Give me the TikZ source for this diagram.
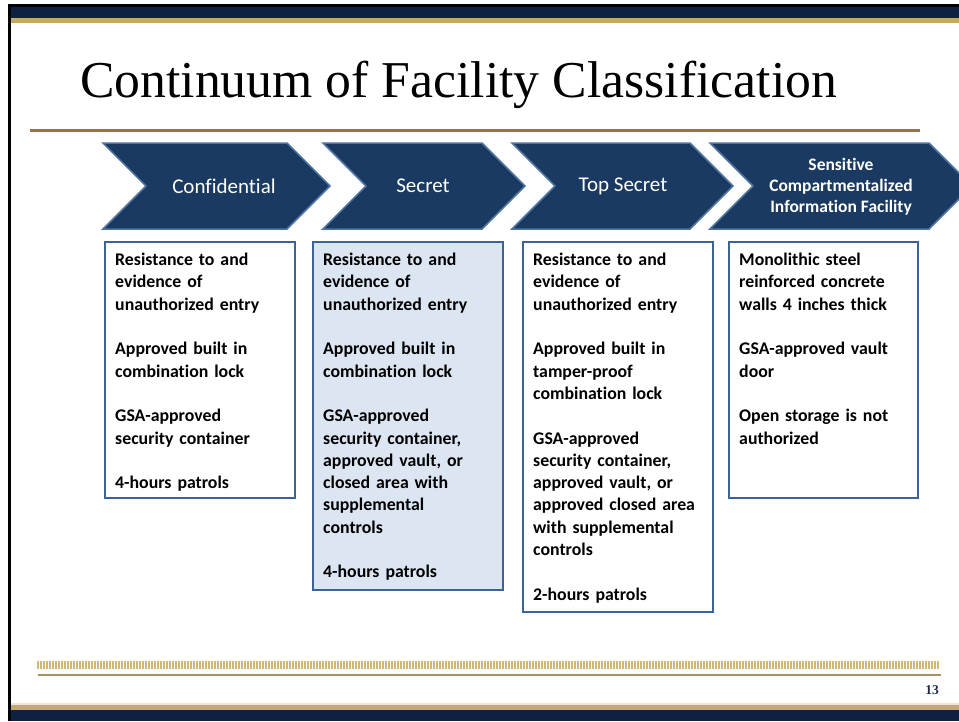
\documentclass[tikz,border=0pt]{standalone}
\usepackage{fontspec}
\setmainfont{Liberation Serif}
\newfontfamily\bodyfont[Ligatures=NoCommon]{Carlito}
\definecolor{barnavy}{HTML}{0D2240}
\definecolor{bargold}{HTML}{C5A96B}
\definecolor{barpale}{HTML}{EFE6D2}
\definecolor{rulegold}{HTML}{94783A}
\definecolor{chevfill}{HTML}{1B3A61}
\definecolor{chevedge}{HTML}{4F73A0}
\definecolor{boxedge}{HTML}{3C6296}
\definecolor{boxtint}{HTML}{DCE6F2}
\definecolor{dotgold}{HTML}{D2B777}
\definecolor{footgold}{HTML}{A8925E}
\definecolor{pagenum}{HTML}{1F2D4A}

\begin{document}
\begin{tikzpicture}[x=1pt,y=-1pt,
    chevron/.style={fill=chevfill,draw=chevedge,line width=1.5pt},
    chevlabel/.style={text=white,align=center,font=\bodyfont\fontsize{21}{24}\selectfont},
    infobox/.style={draw=boxedge,line width=1.3pt},
    infotext/.style={anchor=north west,inner sep=0pt,text width=185pt,align=left,
      font=\bodyfont\bfseries\fontsize{17.8}{22.3}\selectfont}]
        \useasboundingbox (0,0) rectangle (959,721);
        \clip (0,0) rectangle (959,721);
        % top and bottom bars
        \fill[black] (8,4) rectangle (959,7);
        \fill[black] (8,4) rectangle (11,721);
        \fill[barnavy] (11,7) rectangle (959,18);
        \fill[bargold] (11,18) rectangle (959,23);
        \fill[barpale] (11,703) rectangle (959,705);
        \fill[bargold] (11,705) rectangle (959,710);
        \fill[barnavy] (11,710) rectangle (959,721);
        % title
        \node[anchor=base west,inner sep=0pt,font=\fontsize{51.7}{60}\selectfont] (title) at (80,97) {Continuum of Facility Classification};
        \draw[rulegold,line width=3pt] (30,130)--(920,130);
        % chevrons
        \foreach \l/\r in {103/330,323/525,512/733,710/972}
            \draw[chevron] (\l,143)--(\r-43,143)--(\r,186)--(\r-43,229)--(\l,229)--(\l+43,186)--cycle;
        \node[chevlabel] (conf) at (224,186) {Confidential};
        \node[chevlabel] (secr) at (423,186) {Secret};
        \node[chevlabel] (tops) at (623,186) {Top Secret};
        \node[chevlabel,font=\bodyfont\bfseries\fontsize{17.5}{21}\selectfont] (scif) at (841,187) {Sensitive\\Compartmentalized\\Information Facility};
        % boxes
        \draw[infobox] (105,242) rectangle (295,498);
        \draw[infobox,fill=boxtint] (313,242) rectangle (503,590);
        \draw[infobox] (523,242) rectangle (713,612);
        \draw[infobox] (729,242) rectangle (918,498);
        \node[infotext] (conftext) at (115,253) {Resistance to and\\evidence of\\unauthorized entry\\[22.3pt]
            Approved built in\\combination lock\\[22.3pt]
            GSA-approved\\security container\\[22.3pt]
            4-hours patrols};
        \node[infotext] (secrtext) at (323,253) {Resistance to and\\evidence of\\unauthorized entry\\[22.3pt]
            Approved built in\\combination lock\\[22.3pt]
            GSA-approved\\security container,\\approved vault, or\\closed area with\\supplemental\\controls\\[22.3pt]
            4-hours patrols};
        \node[infotext] (topstext) at (533,253) {Resistance to and\\evidence of\\unauthorized entry\\[22.3pt]
            Approved built in\\tamper-proof\\combination lock\\[22.3pt]
            GSA-approved\\security container,\\approved vault, or\\approved closed area\\with supplemental\\controls\\[22.3pt]
            2-hours patrols};
        \node[infotext] (sciftext) at (739,253) {Monolithic steel\\reinforced concrete\\walls 4 inches thick\\[22.3pt]
            GSA-approved vault\\door\\[22.3pt]
            Open storage is not\\authorized};
        % footer
        \foreach \i in {0,...,300}
            \draw[dotgold,line width=1.2pt] (38+3*\i,661)--(38+3*\i,669);
        \draw[footgold,line width=2.5pt] (38,675)--(941,675);
        \node[anchor=base east,inner sep=0pt,text=pagenum,font=\bfseries\fontsize{13.5}{15}\selectfont] (page) at (939,694) {13};
    \end{tikzpicture}
\end{document}
